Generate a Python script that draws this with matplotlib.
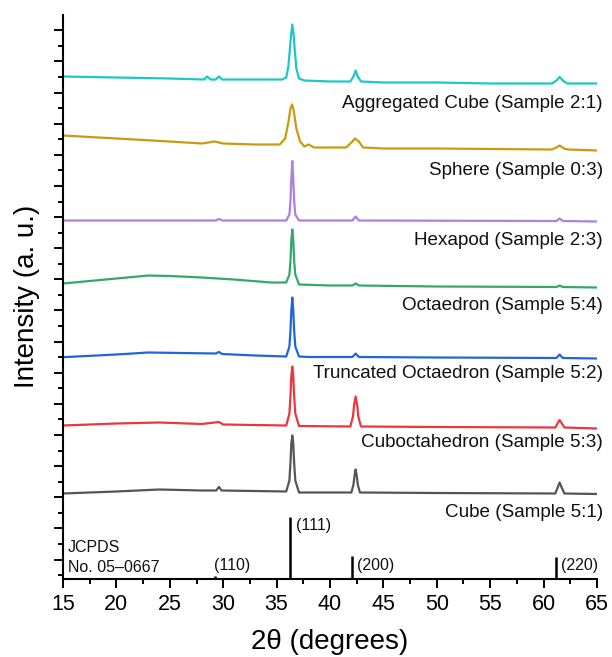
import numpy as np
import matplotlib
matplotlib.use("Agg")
import matplotlib.pyplot as plt
from matplotlib.ticker import MultipleLocator

plt.rcParams['font.family'] = ['Liberation Sans', 'DejaVu Sans']

# ---- stacked XRD patterns (2-theta in degrees, intensity in stacked a.u.) ----
tt_aggcube = [15, 20, 25, 28.2, 28.5, 28.8, 29.3, 29.6, 29.9, 33, 35.5, 35.9, 36.1, 36.25, 36.35, 36.47,
              36.6, 36.7, 36.85, 37.1, 37.6, 40, 41.9, 42.2, 42.4, 42.6, 42.9, 45, 50, 55, 60.8,
              61.2, 61.5, 61.8, 62.2, 65]
i_aggcube = [502, 501, 500, 499, 502, 499, 499, 502, 499, 499, 499, 501, 512, 530, 543, 554,
             543, 528, 510, 500, 498, 497, 497, 502, 508, 502, 497, 496, 496, 495, 495,
             498, 501.5, 498, 495, 495]

tt_sphere = [15, 20, 25, 28, 29.2, 30, 33, 35.3, 35.8, 36.1, 36.3, 36.45, 36.6, 36.85, 37.2,
             37.6, 38.0, 38.5, 41.5, 42.0, 42.35, 42.7, 43.1, 45, 50, 55, 60.8, 61.2, 61.5,
             61.9, 62.3, 65]
i_sphere = [443, 440, 437, 435, 437, 435, 434, 434, 440, 456, 470, 474, 468, 450, 437,
            432, 434, 431, 431, 436, 440, 437, 431, 430, 430, 429.5, 429, 431, 433,
            430, 429, 428]

tt_hexapod = [15, 25, 29.3, 29.6, 29.9, 35.9, 36.2, 36.3, 36.38, 36.47, 36.56, 36.64, 36.75, 37.1,
              42.1, 42.4, 42.7, 61.2, 61.5, 61.8, 65]
i_hexapod = [358, 358, 358, 359.5, 358, 358, 364, 378, 400, 417.5, 400, 378, 364, 358,
             358, 362, 358, 357.5, 360, 357.5, 357]

tt_octa54 = [15, 17, 20, 23, 25, 28, 31, 34.5, 35.9, 36.2, 36.3, 36.38, 36.47, 36.56, 36.64,
             36.75, 37.1, 40, 42.1, 42.4, 42.7, 50, 61.2, 61.5, 61.8, 65]
i_octa54 = [295, 297, 300, 303, 302.5, 301, 299, 296, 296, 304, 318, 338, 349, 338, 318,
            304, 294, 293, 293, 295, 293, 292, 291.5, 293, 291.5, 291]

tt_trunc52 = [15, 20, 23, 26, 29.3, 29.6, 29.9, 33, 35.9, 36.2, 36.3, 36.38, 36.47, 36.56, 36.64,
              36.75, 37.1, 38, 42.1, 42.4, 42.7, 50, 61.2, 61.5, 61.8, 65]
i_trunc52 = [221.3, 224, 226, 225.5, 225, 226.5, 224.5, 223, 222, 232, 248, 268, 281, 268, 248,
             232, 222, 221.5, 221.5, 225, 221.5, 221, 220.5, 224, 220.5, 220]

tt_cubocta53 = [15, 20, 24, 28, 29.6, 30, 35.9, 36.2, 36.3, 36.38, 36.47, 36.56, 36.64, 36.75,
                37.1, 41.9, 42.15, 42.25, 42.4, 42.55, 42.65, 42.9, 50, 61.1, 61.35, 61.5,
                61.65, 61.95, 65]
i_cubocta53 = [153, 155, 156, 154.5, 156.5, 154, 153, 165, 183, 202, 212, 202, 183, 165,
               152.5, 152, 162, 173, 182, 173, 162, 152, 151.5, 151, 156, 158.5,
               156, 151, 150]

tt_cube51 = [15, 20, 24, 28, 29.35, 29.6, 29.85, 35.9, 36.2, 36.3, 36.38, 36.47, 36.56, 36.64,
             36.75, 37.1, 42.0, 42.2, 42.3, 42.4, 42.5, 42.6, 42.8, 50, 61.1, 61.35, 61.5,
             61.65, 61.95, 65]
i_cube51 = [85, 87, 89, 88, 88, 91.5, 88, 87, 98, 116, 135, 143, 135, 116,
            98, 86, 86, 94, 103, 109, 103, 94, 86, 85.5, 85, 92, 96,
            92, 85, 84.5]

patterns = [
    (tt_aggcube, i_aggcube, "#1fc6c6", "Aggregated Cube (Sample 2:1)", 475),
    (tt_sphere, i_sphere, "#c99a12", "Sphere (Sample 0:3)", 408),
    (tt_hexapod, i_hexapod, "#b07fe0", "Hexapod (Sample 2:3)", 338),
    (tt_octa54, i_octa54, "#33a86b", "Octaedron (Sample 5:4)", 273.5),
    (tt_trunc52, i_trunc52, "#2166d6", "Truncated Octaedron (Sample 5:2)", 205),
    (tt_cubocta53, i_cubocta53, "#e8383e", "Cuboctahedron (Sample 5:3)", 136),
    (tt_cube51, i_cube51, "#555555", "Cube (Sample 5:1)", 66),
]

# ---- JCPDS No. 05-0667 reference lines ----
ref_tt = [29.2, 36.3, 42.1, 61.2]
ref_int = [3, 62, 23, 22]
ref_hkl = ["(110)", "(111)", "(200)", "(220)"]

x_ticks = [15, 20, 25, 30, 35, 40, 45, 50, 55, 60, 65]

fig = plt.figure(figsize=(6.12, 6.57), dpi=100)
ax = fig.add_axes([63 / 612, (657 - 578.5) / 657, 534 / 612, 563.5 / 657])

for tt, inten, color, label, label_y in patterns:
    ax.plot(tt, inten, color=color, lw=1.6, solid_joinstyle='round')
    ax.text(65.55, label_y, label, ha='right', va='center', fontsize=13.6,
            color='#111111', clip_on=False)

ax.vlines(ref_tt, 0, ref_int, color='black', lw=1.8)
hkl_pos = [(29.14, 13), (36.85, 53), (42.55, 13), (61.65, 13)]
for (hx, hy), hkl in zip(hkl_pos, ref_hkl):
    ax.text(hx, hy, hkl, ha='left', va='center', fontsize=11.5, color='#111111')

ax.text(15.45, 31.5, "JCPDS", ha='left', va='center', fontsize=11.5, color='#111111')
ax.text(15.45, 11.5, "No. 05\u20130667", ha='left', va='center', fontsize=11.5, color='#111111')

ax.set_xlim(15, 65)
ax.set_ylim(0, 563.5)
ax.set_xticks(x_ticks)
ax.xaxis.set_minor_locator(MultipleLocator(2.5))
ax.yaxis.set_major_locator(MultipleLocator(31.13, offset=19))
ax.yaxis.set_minor_locator(MultipleLocator(31.13, offset=3.4))
ax.set_yticklabels([])

for side in ('top', 'right'):
    ax.spines[side].set_visible(False)
for side in ('left', 'bottom'):
    ax.spines[side].set_linewidth(1.5)

ax.tick_params(which='major', direction='out', length=6.5, width=1.4, labelsize=15.5, pad=5)
ax.tick_params(which='minor', direction='out', length=3.3, width=1.4)

ax.set_xlabel("2\u03b8 (degrees)", fontsize=20, labelpad=9.5)
ax.set_ylabel("Intensity (a. u.)", fontsize=20, labelpad=5)

fig.savefig("out.png", dpi=100)
